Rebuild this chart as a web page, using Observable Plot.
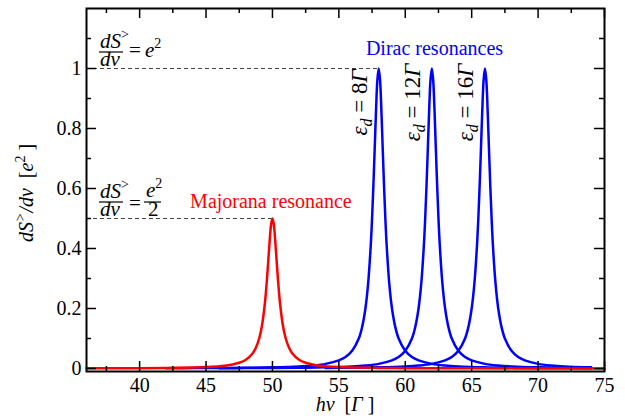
<!DOCTYPE html>
<html>
<head>
<meta charset="utf-8">
<script src="https://cdn.jsdelivr.net/npm/d3@7"></script>
<script src="https://cdn.jsdelivr.net/npm/@observablehq/plot@0.6"></script>
<style>
  html, body { margin: 0; padding: 0; background: #fff; }
  svg { display: block; }
</style>
</head>
<body>
<div id="chart"></div>
<script>
// ---------------- data ----------------
const majoranaX = [36, 38, 40, 42, 44, 45, 46, 47, 47.5, 48, 48.5, 48.75, 49, 49.2, 49.4, 49.5, 49.6, 49.7, 49.8, 49.9,
  50, 50.1, 50.2, 50.3, 50.4, 50.5, 50.6, 50.8, 51, 51.25, 51.5, 52, 52.5, 53, 54, 55, 56, 58, 60, 62, 65, 70, 75];
const majoranaY = [0.0006, 0.0009, 0.0012, 0.0019, 0.0034, 0.005, 0.0077, 0.0135, 0.019, 0.029, 0.05, 0.069, 0.1, 0.14, 0.205, 0.25, 0.305, 0.368, 0.431, 0.481,
  0.5, 0.481, 0.431, 0.368, 0.305, 0.25, 0.205, 0.14, 0.1, 0.069, 0.05, 0.029, 0.019, 0.0135, 0.0077, 0.005, 0.0034, 0.0019, 0.0012, 0.0009, 0.0006, 0.0003, 0.0002];

const dirac8X = [42, 44, 46, 48, 50, 52, 53, 54, 55, 55.5, 56, 56.5, 56.75, 57, 57.2, 57.4, 57.5, 57.6, 57.7, 57.8, 57.9,
  58, 58.1, 58.2, 58.3, 58.4, 58.5, 58.6, 58.8, 59, 59.25, 59.5, 60, 60.5, 61, 62, 63, 64, 66, 68, 70, 72, 74];
const dirac8Y = [0.001, 0.0013, 0.0017, 0.0025, 0.0039, 0.0069, 0.0099, 0.0154, 0.027, 0.038, 0.059, 0.1, 0.138, 0.2, 0.281, 0.41, 0.5, 0.61, 0.735, 0.862, 0.962,
  1, 0.962, 0.862, 0.735, 0.61, 0.5, 0.41, 0.281, 0.2, 0.138, 0.1, 0.059, 0.038, 0.027, 0.0154, 0.0099, 0.0069, 0.0039, 0.0025, 0.0017, 0.0013, 0.001];

const dirac12X = [46, 48, 50, 52, 54, 56, 57, 58, 59, 59.5, 60, 60.5, 60.75, 61, 61.2, 61.4, 61.5, 61.6, 61.7, 61.8, 61.9,
  62, 62.1, 62.2, 62.3, 62.4, 62.5, 62.6, 62.8, 63, 63.25, 63.5, 64, 64.5, 65, 66, 67, 68, 70, 72, 74];
const dirac12Y = [0.001, 0.0013, 0.0017, 0.0025, 0.0039, 0.0069, 0.0099, 0.0154, 0.027, 0.038, 0.059, 0.1, 0.138, 0.2, 0.281, 0.41, 0.5, 0.61, 0.735, 0.862, 0.962,
  1, 0.962, 0.862, 0.735, 0.61, 0.5, 0.41, 0.281, 0.2, 0.138, 0.1, 0.059, 0.038, 0.027, 0.0154, 0.0099, 0.0069, 0.0039, 0.0025, 0.0017];

const dirac16X = [54, 56, 58, 60, 61, 62, 63, 63.5, 64, 64.5, 64.75, 65, 65.2, 65.4, 65.5, 65.6, 65.7, 65.8, 65.9,
  66, 66.1, 66.2, 66.3, 66.4, 66.5, 66.6, 66.8, 67, 67.25, 67.5, 68, 68.5, 69, 70, 71, 72, 74];
const dirac16Y = [0.0017, 0.0025, 0.0039, 0.0069, 0.0099, 0.0154, 0.027, 0.038, 0.059, 0.1, 0.138, 0.2, 0.281, 0.41, 0.5, 0.61, 0.735, 0.862, 0.962,
  1, 0.962, 0.862, 0.735, 0.61, 0.5, 0.41, 0.281, 0.2, 0.138, 0.1, 0.059, 0.038, 0.027, 0.0154, 0.0099, 0.0069, 0.0039];

const peakCenters = [58, 62, 66];
const peakLabels = ["8", "12", "16"];

const xTicks = [40, 45, 50, 55, 60, 65, 70, 75];
const xMinorTicks = [37.5, 42.5, 47.5, 52.5, 57.5, 62.5, 67.5, 72.5];
const yTicks = [0, 0.2, 0.4, 0.6, 0.8, 1];
const yTickLabels = ["0", "0.2", "0.4", "0.6", "0.8", "1"];
const yMinorTicks = [0.1, 0.3, 0.5, 0.7, 0.9, 1.1];

const levelY = [1, 0.5];          // dashed guide levels
const levelXEnd = [58, 50];       // where the dashed guides stop

const majoranaNote = {t: "Majorana resonance", x: 43.8, y: 0.558};
const diracNote = {t: "Dirac resonances", x: 62.2, y: 1.065};

// ---------------- build ----------------
const W = 625, H = 418, mL = 86, mR = 21, mT = 8, mB = 47;
const innerW = W - mL - mR, innerH = H - mT - mB;
const serif = "'Liberation Serif', 'Times New Roman', Times, serif";

const pts = (xs, ys, s) => xs.map((x, i) => ({x, y: ys[i], s}));
const blue = [
  ...pts(dirac8X, dirac8Y, "d8"),
  ...pts(dirac12X, dirac12Y, "d12"),
  ...pts(dirac16X, dirac16Y, "d16")
];
const red = pts(majoranaX, majoranaY, "m");
const levels = levelY.map((y, i) => ({y, x2: levelXEnd[i]}));

const plot = Plot.plot({
  width: W, height: H,
  marginLeft: mL, marginRight: mR, marginTop: mT, marginBottom: mB,
  x: {domain: [36, 75]},
  y: {domain: [-0.01, 1.2]},
  style: {fontFamily: serif, fontSize: "20px", color: "#000", background: "#fff"},
  marks: [
    Plot.ruleY(levels, {y: "y", x1: 36, x2: "x2", stroke: "#444", strokeWidth: 1, strokeDasharray: "4,3"}),
    Plot.line(blue, {x: "x", y: "y", z: "s", stroke: "#0000ff", strokeWidth: 2.5, curve: "catmull-rom"}),
    Plot.line(red, {x: "x", y: "y", stroke: "#ff0000", strokeWidth: 2.5, curve: "catmull-rom"}),
    // inward ticks
    Plot.tickX(xTicks, {x: d => d, insetTop: innerH - 10, stroke: "#000", strokeWidth: 1.5}),
    Plot.tickX(xMinorTicks, {x: d => d, insetTop: innerH - 5, stroke: "#000", strokeWidth: 1.5}),
    Plot.tickX(xTicks, {x: d => d, insetBottom: innerH - 10, stroke: "#000", strokeWidth: 1.5}),
    Plot.tickX(xMinorTicks, {x: d => d, insetBottom: innerH - 5, stroke: "#000", strokeWidth: 1.5}),
    Plot.tickY(yTicks, {y: d => d, insetRight: innerW - 10, stroke: "#000", strokeWidth: 1.5}),
    Plot.tickY(yMinorTicks, {y: d => d, insetRight: innerW - 5, stroke: "#000", strokeWidth: 1.5}),
    Plot.tickY(yTicks, {y: d => d, insetLeft: innerW - 10, stroke: "#000", strokeWidth: 1.5}),
    Plot.tickY(yMinorTicks, {y: d => d, insetLeft: innerW - 5, stroke: "#000", strokeWidth: 1.5}),
    // tick labels
    Plot.axisX(xTicks, {tickSize: 0, tickPadding: 6, label: null, fontSize: 20, fill: "#000"}),
    Plot.axisY(yTicks, {tickSize: 0, tickPadding: 5, label: null, fontSize: 20, fill: "#000",
      tickFormat: d => yTickLabels[yTicks.indexOf(d)]}),
    Plot.text([majoranaNote], {x: "x", y: "y", text: "t", fill: "#ff0000", textAnchor: "start", fontSize: 20, lineAnchor: "middle"}),
    Plot.text([diracNote], {x: "x", y: "y", text: "t", fill: "#0000ff", textAnchor: "middle", fontSize: 20, lineAnchor: "middle"}),
    Plot.frame({stroke: "#000", strokeWidth: 2})
  ]
});

document.getElementById("chart").appendChild(plot);

// ---------------- formatted annotations ----------------
const X = v => plot.scale("x").apply(v);
const Y = v => plot.scale("y").apply(v);
const svg = d3.select(plot);
const g = svg.append("g").attr("font-family", serif).attr("fill", "#000");

function addText(parent, x, y, parts, opts = {}) {
  const t = parent.append("text").attr("x", x).attr("y", y)
    .attr("font-size", opts.size || 20)
    .attr("font-style", opts.style || "italic")
    .attr("text-anchor", opts.anchor || "start");
  if (opts.transform) t.attr("transform", opts.transform);
  for (const p of parts) {
    const s = t.append("tspan").text(p.t);
    if (p.dy) s.attr("dy", p.dy);
    if (p.size) s.attr("font-size", p.size);
    if (p.style) s.attr("font-style", p.style);
  }
  return t;
}
function hline(x1, x2, y) {
  g.append("line").attr("x1", x1).attr("x2", x2).attr("y1", y).attr("y2", y)
    .attr("stroke", "#000").attr("stroke-width", 1.2);
}

// y axis title
const yMid = (Y(-0.01) + Y(1.2)) / 2 + 3.5;
addText(g, 0, 0, [
  {t: "dS"}, {t: ">", dy: -8, size: 14}, {t: "/d\u03bd", dy: 8},
  {t: "\u00a0\u00a0[", style: "normal"}, {t: "e"}, {t: "2", dy: -8, size: 14, style: "normal"}, {t: "\u00a0]", dy: 8, style: "normal"}
], {anchor: "middle", transform: `translate(33, ${yMid}) rotate(-90)`});

// x axis title
const xMid = (X(36) + X(75)) / 2;
addText(g, xMid, H - 7, [
  {t: "h\u03bd"}, {t: "\u00a0\u00a0[", style: "normal"}, {t: "\u0393"}, {t: "\u00a0]", style: "normal"}
], {anchor: "middle"});

// fraction formulas
const FS = 21, FSS = 14;
const fx = X(36) + 14;
function dsdv(y0) {
  addText(g, fx, y0 - 20, [{t: "dS"}, {t: ">", dy: -9, size: FSS, style: "normal"}], {size: FS});
  hline(fx - 1, fx + 23, y0 - 16);
  addText(g, fx, y0 - 2, [{t: "d\u03bd"}], {size: FS});
}
// dS>/dv = e^2
{
  const y0 = Y(levelY[0]);
  dsdv(y0);
  addText(g, fx + 29, y0 - 11, [{t: "=", style: "normal"}], {size: FS});
  addText(g, fx + 45, y0 - 11, [{t: "e"}, {t: "2", dy: -9, size: FSS, style: "normal"}], {size: FS});
}
// dS>/dv = e^2/2
{
  const y0 = Y(levelY[1]);
  dsdv(y0);
  addText(g, fx + 29, y0 - 8, [{t: "=", style: "normal"}], {size: FS});
  addText(g, fx + 46, y0 - 21, [{t: "e"}, {t: "2", dy: -9, size: FSS, style: "normal"}], {size: FS});
  hline(fx + 44, fx + 61, y0 - 16);
  addText(g, fx + 48, y0 - 2, [{t: "2", style: "normal"}], {size: FS});
}

// epsilon_d labels (rotated)
peakCenters.forEach((c, i) => {
  addText(g, 0, 0, [
    {t: "\u03b5"}, {t: "d", dy: 5, size: 16}, {t: "\u00a0=\u00a0" + peakLabels[i], dy: -5, style: "normal"}, {t: "\u0393"}
  ], {size: 23, anchor: "middle", transform: `translate(${X(c) - 11}, ${Y(0.885)}) rotate(-90)`});
});
</script>
</body>
</html>
